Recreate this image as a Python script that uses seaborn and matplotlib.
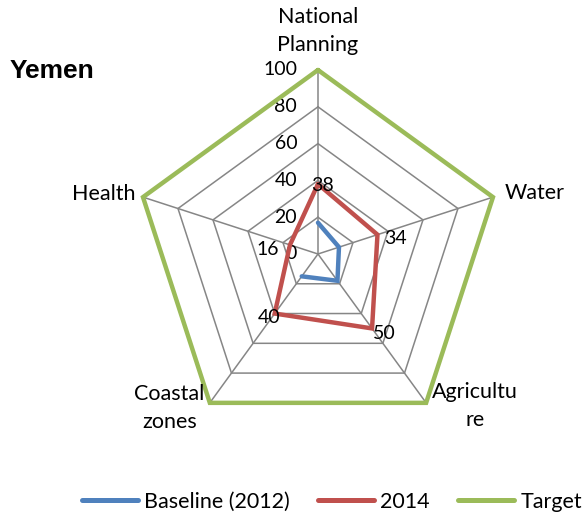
import numpy as np
import seaborn as sns
import matplotlib
matplotlib.use("Agg")
import matplotlib.pyplot as plt

# Radar chart for Yemen - adaptation progress per sector

categories = ["National\nPlanning", "Water", "Agricultu\nre", "Coastal\nzones", "Health"]
baseline_2012 = [17, 12, 18, 15, np.nan]   # no baseline value for Health
values_2014 = [38, 34, 50, 40, 16]
target = [100, 100, 100, 100, 100]
ticks = [0, 20, 40, 60, 80, 100]

series_names = ["Baseline (2012)", "2014", "Target"]
colors = ["#4F81BD", "#C0504D", "#9BBB59"]

# label offsets in points (styling only)
cat_offsets = [(0, 28), (30, 3), (35, -2.5), (-29, -3.5), (-28, 2)]
lab_offsets = [(3, -1), (13, -3), (9, -4), (-4, -2.5), (-16, -3)]

sns.set_theme(style="white")
plt.rcParams["font.family"] = ["Lato", "DejaVu Sans"]
plt.rcParams["text.color"] = "black"

fig = plt.figure(figsize=(5.82, 5.2), dpi=100)
ax = fig.add_axes([0.2302, 0.1577, 0.6323, 0.7077], projection="polar")
ax.set_theta_offset(np.pi / 2)
ax.set_theta_direction(-1)
ax.set_ylim(0, 100)
ax.grid(False)
ax.spines["polar"].set_visible(False)
ax.set_xticks([])
ax.set_yticks([])
ax.patch.set_alpha(0)

n = len(categories)
theta = np.linspace(0, 2 * np.pi, n, endpoint=False)
theta_closed = np.append(theta, theta[0])

# pentagon gridlines and spokes
for lvl in ticks[1:]:
    ax.plot(theta_closed, [lvl] * (n + 1), color="#868686", lw=1.1, zorder=1, clip_on=False)
for t in theta:
    ax.plot([t, t], [0, 100], color="#868686", lw=1.1, zorder=1, clip_on=False)

# radial tick labels along the top spoke
for lvl in ticks:
    ax.annotate(str(lvl), (0, lvl), xytext=(-15, 0), textcoords="offset points",
                ha="right", va="center", fontsize=14, color="black")

# series
for name, vals, c in zip(series_names, [baseline_2012, values_2014, target], colors):
    v = np.append(vals, vals[0])
    ax.plot(theta_closed, v, color=c, lw=3.2, label=name, zorder=3,
            clip_on=False, solid_joinstyle="miter")

# data labels for 2014
for t, v, off in zip(theta, values_2014, lab_offsets):
    ax.annotate(str(v), (t, v), xytext=off, textcoords="offset points",
                ha="center", va="center", fontsize=14, color="black", zorder=4)

# category labels
for t, lab, off in zip(theta, categories, cat_offsets):
    ax.annotate(lab, (t, 100), xytext=off, textcoords="offset points",
                ha="center", va="center", fontsize=15.5, color="black",
                linespacing=1.5, multialignment="center")

fig.text(0.017, 0.863, "Yemen", fontsize=19, fontweight="bold",
         family=["Liberation Sans", "DejaVu Sans"], color="black",
         ha="left", va="center")

leg = fig.legend(loc="center", bbox_to_anchor=(0.57, 0.035), ncol=3, frameon=False,
                 fontsize=15.5, handlelength=2.6, handletextpad=0.3, columnspacing=1.3)
for line in leg.get_lines():
    line.set_linewidth(3.6)

fig.savefig("out.png", dpi=100)
